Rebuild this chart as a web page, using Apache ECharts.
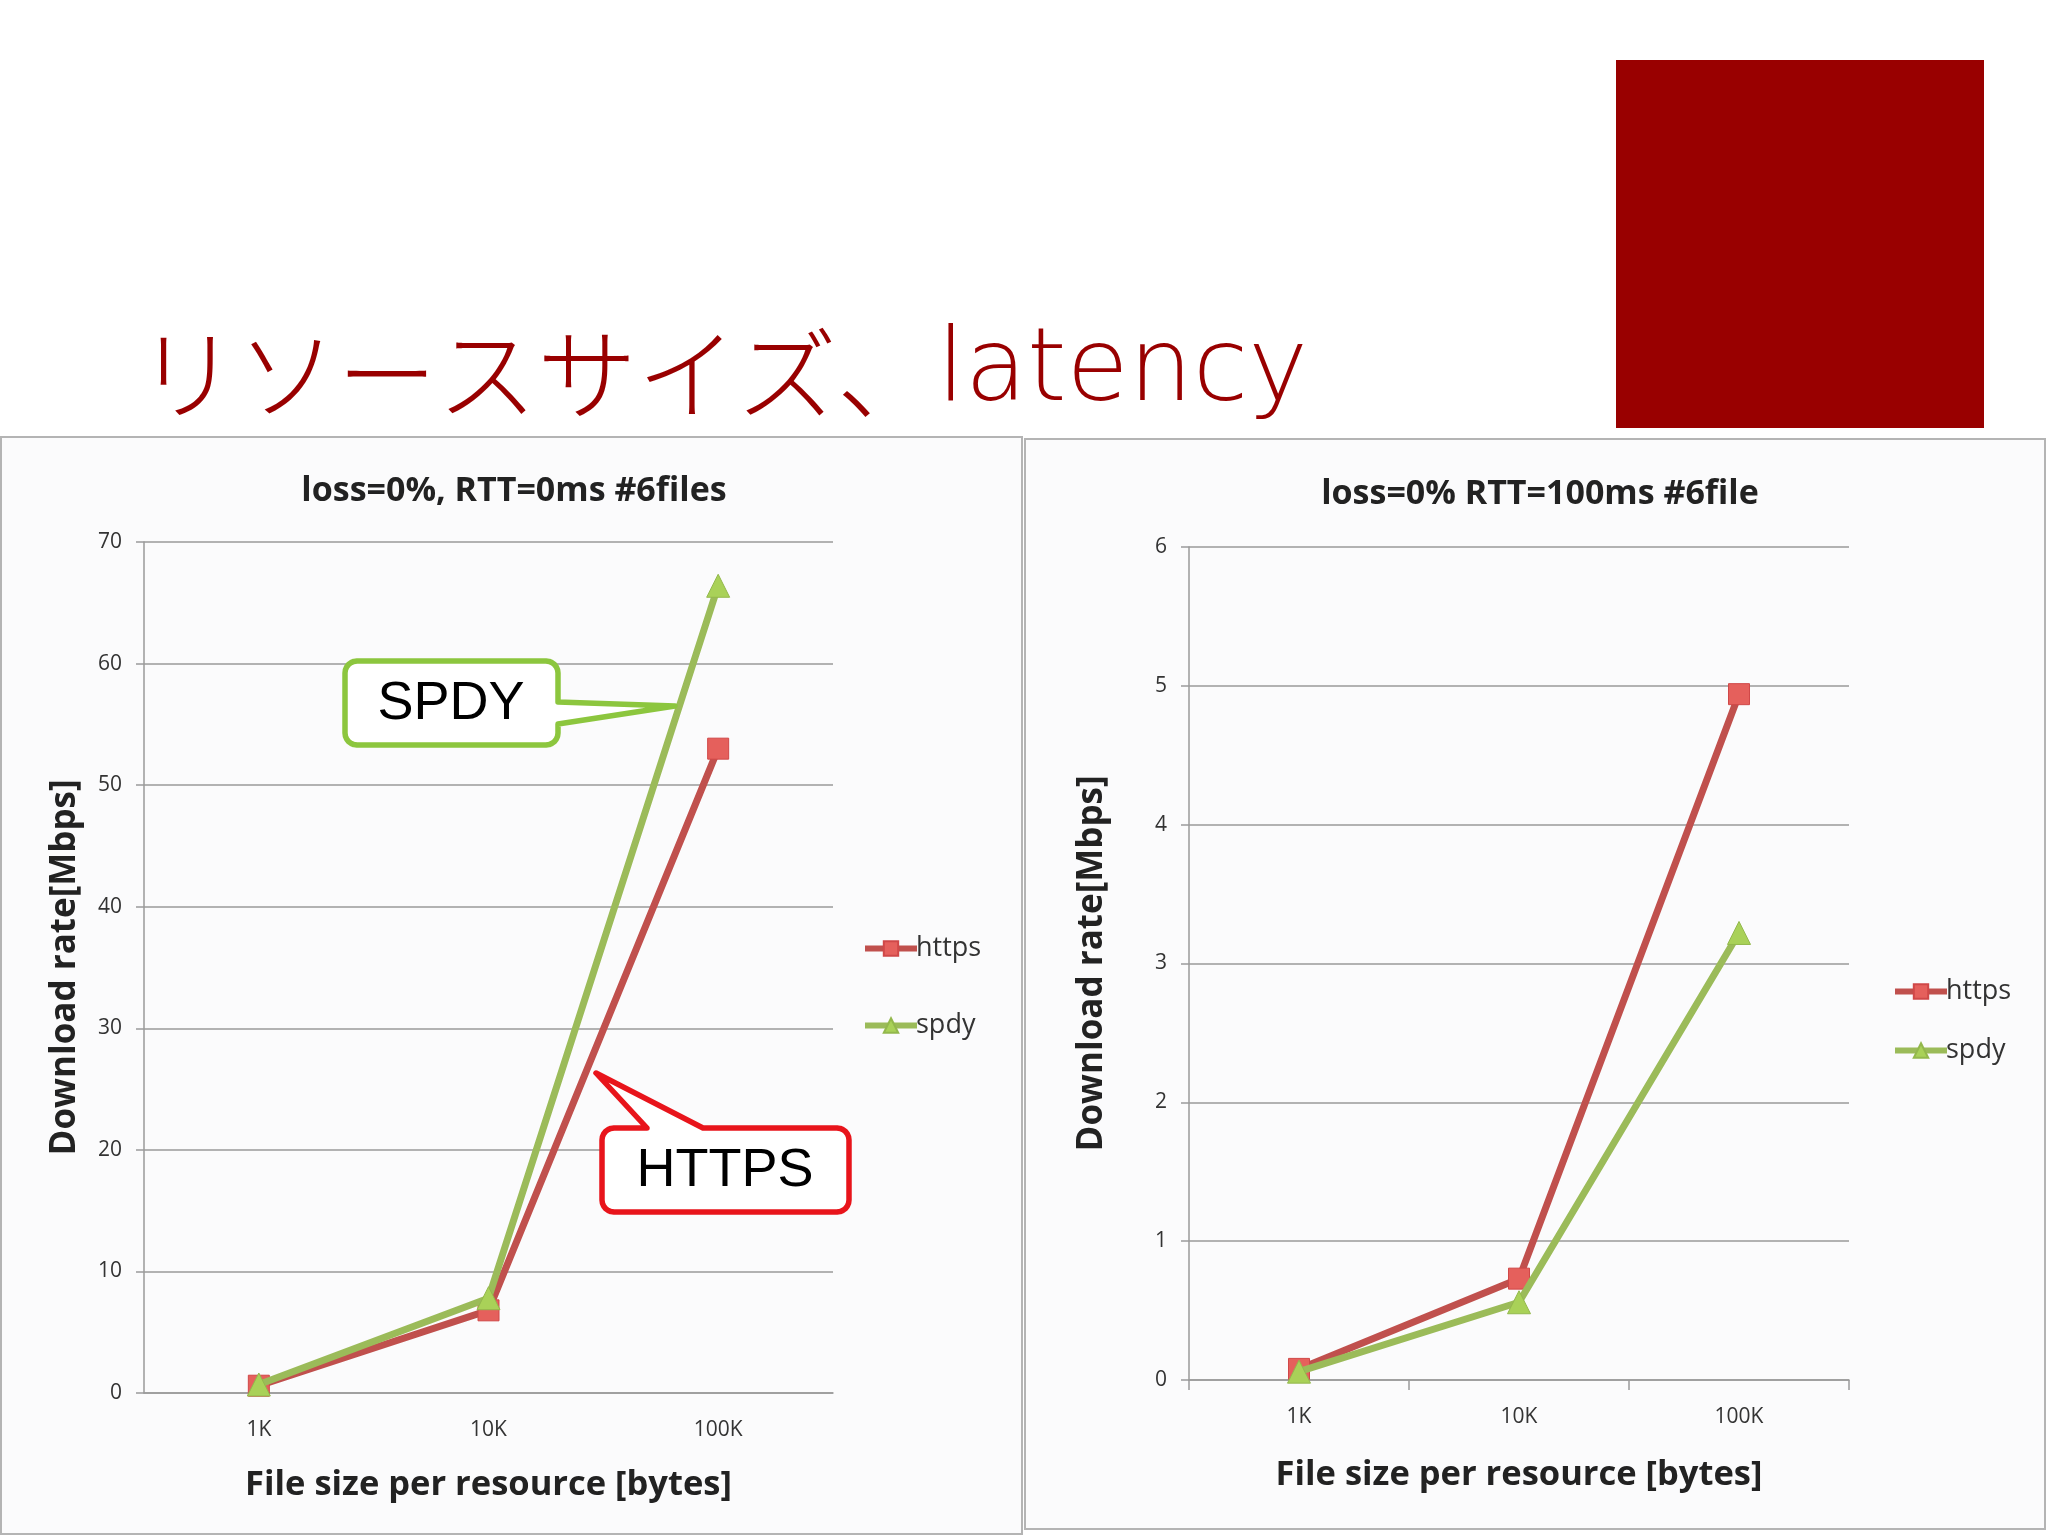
<!DOCTYPE html>
<html>
<head>
<meta charset="utf-8">
<script src="https://cdn.jsdelivr.net/npm/echarts@6/dist/echarts.min.js"></script>
<style>
html,body{margin:0;padding:0;background:#fff;}
#main{width:2048px;height:1536px;}
</style>
</head>
<body>
<div id="main"></div>
<script>
// ---- data ----
const categories = ['1K', '10K', '100K'];
const leftHttps = [0.6, 6.8, 53.0];
const leftSpdy = [0.7, 7.8, 66.4];
const rightHttps = [0.08, 0.73, 4.94];
const rightSpdy = [0.06, 0.56, 3.22];
const slideTitleJa = 'リソースサイズ、';
const slideTitleEn = 'latency';
const leftTitle = 'loss=0%, RTT=0ms #6files';
const rightTitle = 'loss=0% RTT=100ms #6file';
const yName = 'Download rate[Mbps]';
const xName = 'File size per resource [bytes]';

const FONT = '"Open Sans", Lato, sans-serif';
const HTTPS_LINE = '#c0504d';
const HTTPS_MARK = '#e5605c';
const SPDY_LINE = '#9bbb59';
const SPDY_MARK = '#a9d158';

function calloutPts(x, y, w, h, r, side, a, b, tip) {
  const pts = [];
  const arc = (cx, cy, a0) => {
    for (let i = 0; i <= 6; i++) {
      const t = (a0 + i * 15) * Math.PI / 180;
      pts.push([cx + r * Math.cos(t), cy + r * Math.sin(t)]);
    }
  };
  pts.push([x + r, y]);
  if (side === 'top') { pts.push([a, y], tip, [b, y]); }
  arc(x + w - r, y + r, -90);
  if (side === 'right') { pts.push([x + w, a], tip, [x + w, b]); }
  arc(x + w - r, y + h - r, 0);
  arc(x + r, y + h - r, 90);
  arc(x + r, y + r, 180);
  return pts;
}

const chart = echarts.init(document.getElementById('main'));

function yAxisCfg(gridIndex, max, interval, gap) {
  return {
    type: 'value', gridIndex, min: 0, max, interval,
    name: yName, nameLocation: 'middle', nameGap: gap,
    nameTextStyle: { fontFamily: FONT, fontSize: 35, fontWeight: 'bold', color: '#222' },
    axisLine: { show: true, lineStyle: { color: '#9a9a9a', width: 1.5 } },
    axisTick: { show: true, length: 8, lineStyle: { color: '#9a9a9a', width: 1.5 } },
    axisLabel: { fontFamily: FONT, fontSize: 21, color: '#333', margin: 22 },
    splitLine: { show: true, lineStyle: { color: '#9a9a9a', width: 1.5 } }
  };
}
function xAxisCfg(gridIndex, showTick, gap) {
  return {
    type: 'category', gridIndex, data: categories, boundaryGap: true,
    name: xName, nameLocation: 'middle', nameGap: gap,
    nameTextStyle: { fontFamily: FONT, fontSize: 34.5, fontWeight: 'bold', color: '#222' },
    axisLine: { show: true, lineStyle: { color: '#9a9a9a', width: 1.5 } },
    axisTick: { show: showTick, length: 10, alignWithLabel: false, lineStyle: { color: '#9a9a9a', width: 1.5 } },
    axisLabel: { fontFamily: FONT, fontSize: 21, color: '#333', margin: 27 }
  };
}
function seriesCfg(name, data, idx, isHttps) {
  return {
    name, type: 'line', data, xAxisIndex: idx, yAxisIndex: idx,
    symbol: isHttps ? 'rect' : 'triangle',
    symbolSize: isHttps ? 21 : 23,
    lineStyle: { color: isHttps ? HTTPS_LINE : SPDY_LINE, width: 7 },
    itemStyle: { color: isHttps ? HTTPS_MARK : SPDY_MARK, borderColor: isHttps ? '#d04848' : '#93b84c', borderWidth: 1 },
    z: isHttps ? 3 : 4,
    animation: false
  };
}
function legendCfg(name, left, top) {
  return {
    data: [name], left, top, orient: 'vertical', itemWidth: 52, itemHeight: 18, itemGap: 0,
    lineStyle: { width: 6 },
    textStyle: { fontFamily: FONT, fontSize: 27, color: '#333', padding: [0, 0, 0, -6] },
    padding: 0
  };
}

const spdyBox = calloutPts(345, 661, 213, 84, 12, 'right', 702, 724, [675, 706]);
const httpsBox = calloutPts(602, 1128, 247, 84, 12, 'top', 647, 703, [596, 1073]);

chart.setOption({
  backgroundColor: '#ffffff',
  animation: false,
  title: [
    {
      text: '{ja|' + slideTitleJa + '}{en|' + slideTitleEn + '}', left: 132, top: 318,
      textStyle: {
        rich: {
          ja: { fontFamily: '"Noto Sans CJK JP", sans-serif', fontSize: 100, fontWeight: 300, color: '#990000' },
          en: { fontFamily: '"DejaVu Sans", sans-serif', fontSize: 101, fontWeight: 200, color: '#990000' }
        }
      }
    },
    { text: leftTitle, left: 509, top: 469, textAlign: 'center', textStyle: { fontFamily: FONT, fontSize: 34, fontWeight: 'bold', color: '#222' } },
    { text: rightTitle, left: 1535, top: 472, textAlign: 'center', textStyle: { fontFamily: FONT, fontSize: 34, fontWeight: 'bold', color: '#222' } }
  ],
  legend: [
    legendCfg('https', 862, 935),
    legendCfg('spdy', 862, 1012),
    legendCfg('https', 1892, 978),
    legendCfg('spdy', 1892, 1037)
  ],
  grid: [
    { left: 144, top: 542, width: 689, height: 851 },
    { left: 1189, top: 547, width: 660, height: 833 }
  ],
  xAxis: [xAxisCfg(0, false, 75), xAxisCfg(1, true, 78)],
  yAxis: [yAxisCfg(0, 70, 10, 61), yAxisCfg(1, 6, 1, 79)],
  series: [
    seriesCfg('https', leftHttps, 0, true),
    seriesCfg('spdy', leftSpdy, 0, false),
    seriesCfg('https', rightHttps, 1, true),
    seriesCfg('spdy', rightSpdy, 1, false)
  ],
  graphic: [
    { type: 'rect', z: -10, shape: { x: 1616, y: 60, width: 368, height: 368 }, style: { fill: '#990000' } },
    { type: 'rect', z: -10, shape: { x: 1, y: 437, width: 1021, height: 1097 }, style: { fill: '#fbfbfc', stroke: '#b4b4b4', lineWidth: 2 } },
    { type: 'rect', z: -10, shape: { x: 1025, y: 439, width: 1020, height: 1090 }, style: { fill: '#fbfbfc', stroke: '#b4b4b4', lineWidth: 2 } },
    { type: 'polygon', z: 100, shape: { points: spdyBox }, style: { fill: '#ffffff', stroke: '#8cc63e', lineWidth: 5.5, lineJoin: 'round' } },
    { type: 'text', z: 101, x: 451, y: 704, style: { text: 'SPDY', font: '54px "Liberation Sans", Arial, sans-serif', fill: '#000', align: 'center', verticalAlign: 'middle' } },
    { type: 'polygon', z: 100, shape: { points: httpsBox }, style: { fill: '#ffffff', stroke: '#e8141b', lineWidth: 5.5, lineJoin: 'round' } },
    { type: 'text', z: 101, x: 725, y: 1171, style: { text: 'HTTPS', font: '54px "Liberation Sans", Arial, sans-serif', fill: '#000', align: 'center', verticalAlign: 'middle' } }
  ]
});
</script>
</body>
</html>
